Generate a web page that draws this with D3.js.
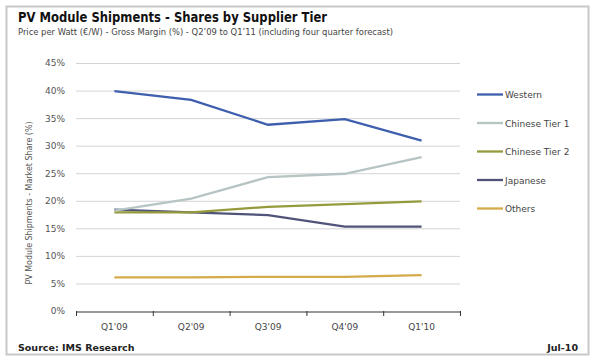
<!DOCTYPE html>
<html>
<head>
<meta charset="utf-8">
<script src="https://cdn.jsdelivr.net/npm/d3@7"></script>
<style>
  body { margin: 0; background: #fff; }
  text { font-family: "DejaVu Sans", Verdana, sans-serif; }
</style>
</head>
<body>
<div class="canva"></div>
<script>
// quarters on the x axis
const quarters = ["Q1'09", "Q2'09", "Q3'09", "Q4'09", "Q1'10"];

// market share (%) per supplier tier
const western = [39.9, 38.3, 33.8, 34.8, 30.9];
const chineseTier1 = [18.2, 20.4, 24.3, 24.9, 27.9];
const chineseTier2 = [17.9, 17.9, 18.9, 19.4, 19.9];
const japanese = [18.4, 17.9, 17.4, 15.3, 15.3];
const others = [6.1, 6.1, 6.2, 6.2, 6.5];

const yTicks = [0, 5, 10, 15, 20, 25, 30, 35, 40, 45];

const series = [
    { name: 'Western', values: western, color: '#3d5fae' },
    { name: 'Chinese Tier 1', values: chineseTier1, color: '#b7c4c4' },
    { name: 'Chinese Tier 2', values: chineseTier2, color: '#959a3c' },
    { name: 'Japanese', values: japanese, color: '#4f5478' },
    { name: 'Others', values: others, color: '#d4aa4a' }
];

const svg = d3.select('.canva').append('svg')
    .attr('width', 595)
    .attr('height', 361);

// outer frame
svg.append('rect')
    .attr('x', 6.5).attr('y', 6.5)
    .attr('width', 582).attr('height', 348)
    .attr('fill', '#fff')
    .attr('stroke', '#c8c8c8')
    .attr('stroke-width', 2);

svg.append('text')
    .attr('x', 18).attr('y', 22)
    .attr('font-size', 13.5).attr('font-weight', 'bold')
    .attr('fill', '#111')
    .attr('textLength', 309).attr('lengthAdjust', 'spacingAndGlyphs')
    .text('PV Module Shipments - Shares by Supplier Tier');

svg.append('text')
    .attr('x', 18).attr('y', 35)
    .attr('font-size', 9.5)
    .attr('fill', '#444')
    .attr('textLength', 375).attr('lengthAdjust', 'spacingAndGlyphs')
    .text('Price per Watt (€/W) - Gross Margin (%) - Q2\u201909 to Q1\u201911 (including four quarter forecast)');

const x = d3.scaleBand()
    .domain(quarters)
    .range([76, 460]);

const y = d3.scaleLinear()
    .domain([0, 45])
    .range([311, 63]);

// gridlines
svg.append('g')
    .selectAll('line')
    .data(yTicks.filter(d => d > 0))
    .enter().append('line')
    .attr('x1', 76).attr('x2', 460)
    .attr('y1', d => y(d) + 0.5).attr('y2', d => y(d) + 0.5)
    .attr('stroke', '#d4d4d4')
    .attr('stroke-width', 1);

// y axis labels
const yAxis = svg.append('g')
    .attr('transform', 'translate(76,0)')
    .call(d3.axisLeft(y).tickValues(yTicks).tickSize(0).tickPadding(11).tickFormat(d => d + '%'));
yAxis.select('.domain').remove();
yAxis.selectAll('text')
    .attr('font-size', 9)
    .attr('fill', '#555')
    .attr('font-family', '"DejaVu Sans", sans-serif');

// x axis
const xAxis = svg.append('g')
    .attr('transform', 'translate(0,311.5)')
    .call(d3.axisBottom(x).tickSize(0).tickPadding(12));
xAxis.select('.domain')
    .attr('stroke', '#333');
xAxis.selectAll('text')
    .attr('font-size', 9)
    .attr('fill', '#444')
    .attr('font-family', '"DejaVu Sans", sans-serif');

// tick marks at band boundaries
svg.append('g')
    .selectAll('line')
    .data(quarters)
    .enter().append('line')
    .attr('x1', d => x(d) + x.bandwidth() + 0.5)
    .attr('x2', d => x(d) + x.bandwidth() + 0.5)
    .attr('y1', 311).attr('y2', 316)
    .attr('stroke', '#333');
svg.append('line')
    .attr('x1', 76.5).attr('x2', 76.5)
    .attr('y1', 311).attr('y2', 316)
    .attr('stroke', '#333');

// y axis title
svg.append('text')
    .attr('transform', 'translate(32,203) rotate(-90)')
    .attr('text-anchor', 'middle')
    .attr('font-size', 9)
    .attr('fill', '#555')
    .attr('textLength', 163).attr('lengthAdjust', 'spacingAndGlyphs')
    .text('PV Module Shipments - Market Share (%)');

const line = d3.line()
    .x((d, i) => x(quarters[i]) + x.bandwidth() / 2)
    .y(d => y(d));

svg.append('g')
    .selectAll('path')
    .data(series.slice().reverse())
    .enter().append('path')
    .attr('d', d => line(d.values))
    .attr('fill', 'none')
    .attr('stroke', d => d.color)
    .attr('stroke-width', 2.3);

// legend
const legend = svg.append('g')
    .selectAll('g')
    .data(series)
    .enter().append('g')
    .attr('transform', (d, i) => `translate(477,${94.5 + i * 28.5})`);

legend.append('line')
    .attr('x1', 0).attr('x2', 26)
    .attr('stroke', d => d.color)
    .attr('stroke-width', 2.3);

legend.append('text')
    .attr('x', 28).attr('y', 3.5)
    .attr('font-size', 9)
    .attr('fill', '#444')
    .text(d => d.name);

// footer
svg.append('text')
    .attr('x', 18).attr('y', 351)
    .attr('font-size', 9.5).attr('font-weight', 'bold')
    .attr('fill', '#222')
    .text('Source: IMS Research');

svg.append('text')
    .attr('x', 578).attr('y', 351)
    .attr('text-anchor', 'end')
    .attr('font-size', 9.5).attr('font-weight', 'bold')
    .attr('fill', '#222')
    .text('Jul-10');
</script>
</body>
</html>
